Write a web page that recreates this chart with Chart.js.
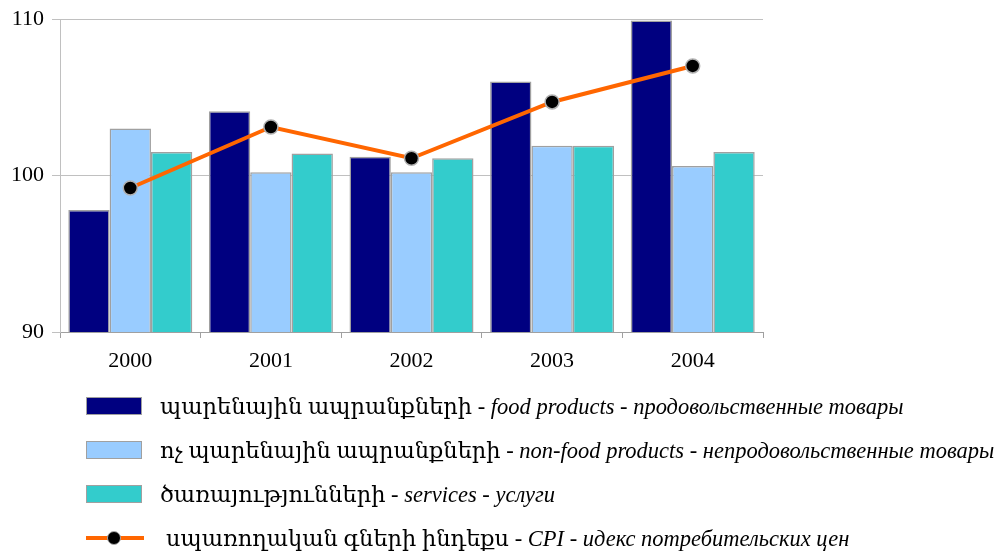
<!DOCTYPE html>
<html>
<head>
<meta charset="utf-8">
<script src="https://cdn.jsdelivr.net/npm/chart.js@4"></script>
<style>
  body { margin: 0; background: #fff; }
  #wrap { position: relative; width: 1002px; height: 552px; }
  #legend { position: absolute; left: 86px; top: 384px; font-family: "Liberation Serif", "DejaVu Serif", serif; font-size: 22.5px; color: #000; }
  .row { height: 44px; display: flex; align-items: center; white-space: nowrap; }
  .swatch { width: 56px; height: 18px; border: 1.5px solid #a0a0a0; box-sizing: border-box; margin-right: 18px; }
  .lineSample { position: relative; width: 58px; height: 18px; margin-right: 22px; }
  .lineSample::before { content: ""; position: absolute; left: 0; right: 0; top: 7px; height: 4px; background: #ff6600; }
  .lineSample::after { content: ""; position: absolute; left: 21px; top: 2px; width: 14px; height: 14px; border-radius: 50%; background: #000; border: 1.5px solid #aaa; box-sizing: border-box; }
  i { font-style: italic; }
</style>
</head>
<body>
<div id="wrap">
  <canvas id="grafico" width="1002" height="552"></canvas>
  <div id="legend"></div>
</div>
<script>
const anos = ["2000", "2001", "2002", "2003", "2004"];
const alimentos = [97.8, 104.1, 101.2, 106.0, 109.9];
const naoAlimentos = [103.0, 100.2, 100.2, 101.9, 100.6];
const servicos = [101.5, 101.4, 101.1, 101.9, 101.5];
const ipc = [99.2, 103.1, 101.1, 104.7, 107.0];

const nomesArm = ["պարենային ապրանքների", "ոչ պարենային ապրանքների", "ծառայությունների", "սպառողական գների ինդեքս"];
const nomesEng = ["food products", "non-food products", "services", "CPI"];
const nomesRus = ["продовольственные товары", "непродовольственные товары", "услуги", "идекс потребительских цен"];

const cores = ["#000080", "#99ccff", "#33cccc"];
const serif = "'Liberation Serif', 'DejaVu Serif', serif";

const barra = (i, data) => ({
  type: "bar",
  label: nomesEng[i],
  data: data,
  backgroundColor: cores[i],
  borderColor: "#a0a0a0",
  borderWidth: 1.5,
  categoryPercentage: 0.882,
  barPercentage: 1,
  order: 1,
});

new Chart(document.getElementById("grafico").getContext("2d"), {
  data: {
    labels: anos,
    datasets: [
      barra(0, alimentos),
      barra(1, naoAlimentos),
      barra(2, servicos),
      {
        type: "line",
        label: nomesEng[3],
        data: ipc,
        borderColor: "#ff6600",
        borderWidth: 4,
        pointRadius: 7,
        pointBackgroundColor: "#000",
        pointBorderColor: "#b0b0b0",
        pointBorderWidth: 1.5,
        tension: 0,
        clip: false,
        order: 0,
      },
    ],
  },
  options: {
    responsive: false,
    animation: false,
    layout: { padding: { left: 0, right: 239, top: 12, bottom: 180 } },
    plugins: { legend: { display: false }, tooltip: { enabled: false } },
    scales: {
      x: {
        grid: { display: true, drawOnChartArea: false, offset: true, color: "#a0a0a0", tickLength: 6 },
        border: { color: "#a0a0a0" },
        ticks: { color: "#000", padding: 10, font: { family: serif, size: 22 } },
        afterFit: (s) => { s.height = 40; },
      },
      y: {
        min: 90,
        max: 110,
        ticks: { stepSize: 10, color: "#000", padding: 8, font: { family: serif, size: 22, lineHeight: 1 } },
        grid: { color: "#c0c0c0", tickLength: 8 },
        border: { color: "#c0c0c0" },
        afterFit: (s) => { s.width = 60; },
      },
    },
  },
});

// legenda com partes em itálico
const legenda = document.getElementById("legend");
nomesArm.forEach((arm, i) => {
  const row = document.createElement("div");
  row.className = "row";
  const amostra = document.createElement("div");
  if (i < 3) {
    amostra.className = "swatch";
    amostra.style.background = cores[i];
  } else {
    amostra.className = "lineSample";
  }
  row.appendChild(amostra);
  const txt = document.createElement("span");
  txt.innerHTML = arm + " - <i>" + nomesEng[i] + "</i> - <i>" + nomesRus[i] + "</i>";
  row.appendChild(txt);
  legenda.appendChild(row);
});
</script>
</body>
</html>
